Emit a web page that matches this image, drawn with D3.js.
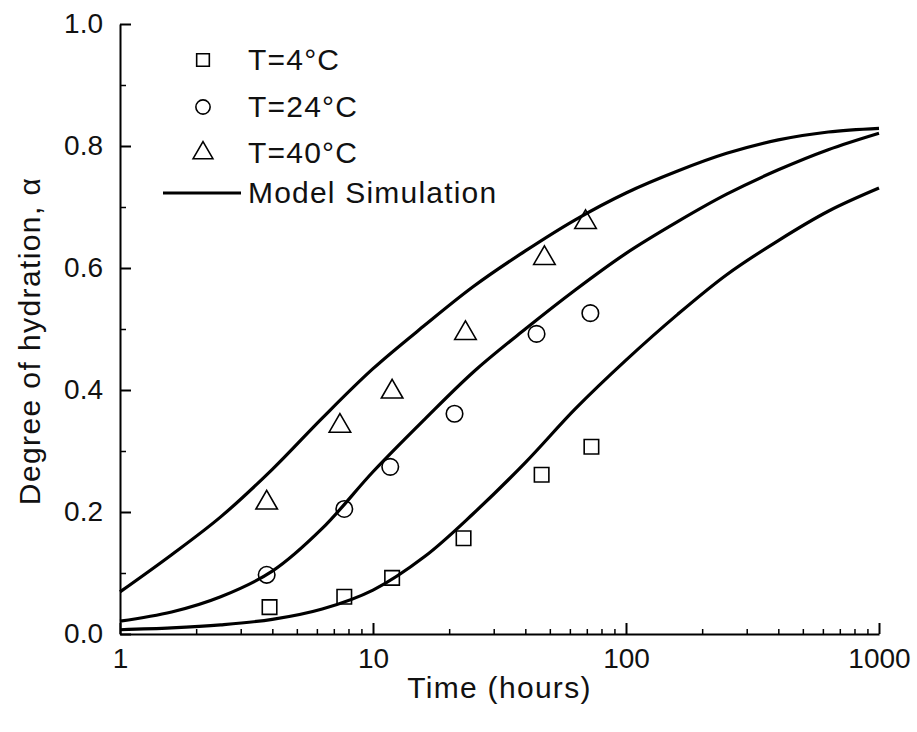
<!DOCTYPE html>
<html>
<head>
<meta charset="utf-8">
<script src="https://cdn.jsdelivr.net/npm/d3@7"></script>
<style>
  body { margin: 0; background: #fff; }
  svg text { font-family: "Liberation Sans", Arial, sans-serif; fill: #111; }
</style>
</head>
<body>
<div id="chart"></div>
<script>
// measured data (hours, degree of hydration)
const timesT4 = [3.9, 7.7, 11.9, 22.8, 46.4, 73];
const alphaT4 = [0.044, 0.061, 0.092, 0.157, 0.261, 0.307];
const timesT24 = [3.8, 7.7, 11.7, 21, 44.3, 72.3];
const alphaT24 = [0.097, 0.205, 0.274, 0.361, 0.492, 0.526];
const timesT40 = [3.8, 7.4, 11.9, 23.2, 47.6, 69.2];
const alphaT40 = [0.215, 0.341, 0.397, 0.493, 0.616, 0.675];

// model simulation curves
const modelTimes = [1, 1.6, 2.5, 4, 6.3, 10, 16, 25, 40, 63, 100, 160, 250, 400, 630, 1000];
const modelT4 = [0.007, 0.010, 0.015, 0.024, 0.041, 0.072, 0.127, 0.198, 0.281, 0.369,
                 0.449, 0.524, 0.589, 0.645, 0.693, 0.731];
const modelT24 = [0.021, 0.036, 0.061, 0.103, 0.173, 0.266, 0.352, 0.430, 0.500, 0.564,
                  0.624, 0.676, 0.721, 0.761, 0.794, 0.821];
const modelT40 = [0.069, 0.130, 0.192, 0.270, 0.354, 0.435, 0.506, 0.570, 0.628, 0.679,
                  0.723, 0.759, 0.788, 0.810, 0.823, 0.829];

const legendLabels = ["T=4°C", "T=24°C", "T=40°C", "Model Simulation"];
const yMajorTicks = [0, 0.2, 0.4, 0.6, 0.8, 1.0];
const yMinorTicks = [0.1, 0.3, 0.5, 0.7, 0.9];
const xMajorTicks = [1, 10, 100, 1000];

const width = 917, height = 732;
const margin = { left: 120, top: 24, right: 38, bottom: 98 };

const svg = d3.select("#chart").append("svg")
  .attr("width", width).attr("height", height);

const x = d3.scaleLog().domain([1, 1000]).range([margin.left, width - margin.right]);
const y = d3.scaleLinear().domain([0, 1]).range([height - margin.bottom, margin.top]);

const xMinor = [];
for (let d = 1; d < 1000; d *= 10) {
  for (let k = 2; k <= 9; k++) xMinor.push(d * k);
}

// x axis
svg.append("g")
  .attr("transform", `translate(0,${y(0)})`)
  .call(d3.axisBottom(x).tickValues(xMinor).tickSizeInner(-5).tickSizeOuter(0).tickFormat(""))
  .call(g => g.selectAll("line").attr("stroke", "#000").attr("stroke-width", 1.5))
  .call(g => g.select(".domain").remove());

svg.append("g")
  .attr("transform", `translate(0,${y(0)})`)
  .call(d3.axisBottom(x).tickValues(xMajorTicks).tickSizeInner(-11).tickSizeOuter(0)
    .tickPadding(14).tickFormat(d3.format("d")))
  .call(g => g.selectAll("line").attr("stroke", "#000").attr("stroke-width", 2))
  .call(g => g.select(".domain").attr("stroke", "#000").attr("stroke-width", 2))
  .call(g => g.selectAll("text").attr("font-size", 28).attr("font-family", "Liberation Sans, Arial, sans-serif").attr("fill", "#111"));

// y axis
svg.append("g")
  .attr("transform", `translate(${x(1)},0)`)
  .call(d3.axisLeft(y).tickValues(yMinorTicks).tickSizeInner(-6).tickSizeOuter(0).tickFormat(""))
  .call(g => g.selectAll("line").attr("stroke", "#000").attr("stroke-width", 1.5))
  .call(g => g.select(".domain").remove());

svg.append("g")
  .attr("transform", `translate(${x(1)},0)`)
  .call(d3.axisLeft(y).tickValues(yMajorTicks).tickSizeInner(-11).tickSizeOuter(0)
    .tickPadding(17).tickFormat(d3.format(".1f")))
  .call(g => g.selectAll("line").attr("stroke", "#000").attr("stroke-width", 2))
  .call(g => g.select(".domain").attr("stroke", "#000").attr("stroke-width", 2))
  .call(g => g.selectAll("text").attr("font-size", 28).attr("font-family", "Liberation Sans, Arial, sans-serif").attr("fill", "#111"));

// axis titles
svg.append("text")
  .attr("x", (x(1) + x(1000)) / 2).attr("y", 698)
  .attr("text-anchor", "middle").attr("font-size", 30)
  .attr("letter-spacing", 1.3)
  .text("Time (hours)");

svg.append("text")
  .attr("transform", `translate(40,${(y(0) + y(1)) / 2 + 12}) rotate(-90)`)
  .attr("text-anchor", "middle").attr("font-size", 30)
  .attr("letter-spacing", 1.4)
  .text("Degree of hydration, α");

// model curves
const line = d3.line()
  .x((d, i) => x(modelTimes[i]))
  .y(d => y(d))
  .curve(d3.curveCatmullRom.alpha(0.5));

[modelT4, modelT24, modelT40].forEach(series => {
  svg.append("path")
    .attr("d", line(series))
    .attr("fill", "none")
    .attr("stroke", "#000")
    .attr("stroke-width", 3.2);
});

// markers
const symSquare = d3.symbol().type(d3.symbolSquare).size(210);
const symCircle = d3.symbol().type(d3.symbolCircle).size(215);
const symTriangle = d3.symbol().type(d3.symbolTriangle).size(200);

function drawMarkers(times, values, sym) {
  svg.append("g").selectAll("path")
    .data(values)
    .join("path")
    .attr("transform", (d, i) => `translate(${x(times[i])},${y(d)})`)
    .attr("d", sym())
    .attr("fill", "none")
    .attr("stroke", "#000")
    .attr("stroke-width", 1.6);
}
drawMarkers(timesT4, alphaT4, symSquare);
drawMarkers(timesT24, alphaT24, symCircle);
drawMarkers(timesT40, alphaT40, symTriangle);

// legend
const legendRows = [60, 107, 153, 193];
const legendSyms = [
  d3.symbol().type(d3.symbolSquare).size(160),
  d3.symbol().type(d3.symbolCircle).size(160),
  d3.symbol().type(d3.symbolTriangle).size(170)
];
const legend = svg.append("g");
legendSyms.forEach((s, i) => {
  legend.append("path")
    .attr("transform", `translate(203,${legendRows[i]})`)
    .attr("d", s())
    .attr("fill", "none").attr("stroke", "#000").attr("stroke-width", 1.6);
});
legend.append("line")
  .attr("x1", 163).attr("x2", 241)
  .attr("y1", legendRows[3]).attr("y2", legendRows[3])
  .attr("stroke", "#000").attr("stroke-width", 3.2);
legendLabels.forEach((t, i) => {
  legend.append("text")
    .attr("x", 248).attr("y", legendRows[i] + 10)
    .attr("font-size", 30)
    .attr("letter-spacing", 1.2)
    .text(t);
});
</script>
</body>
</html>
